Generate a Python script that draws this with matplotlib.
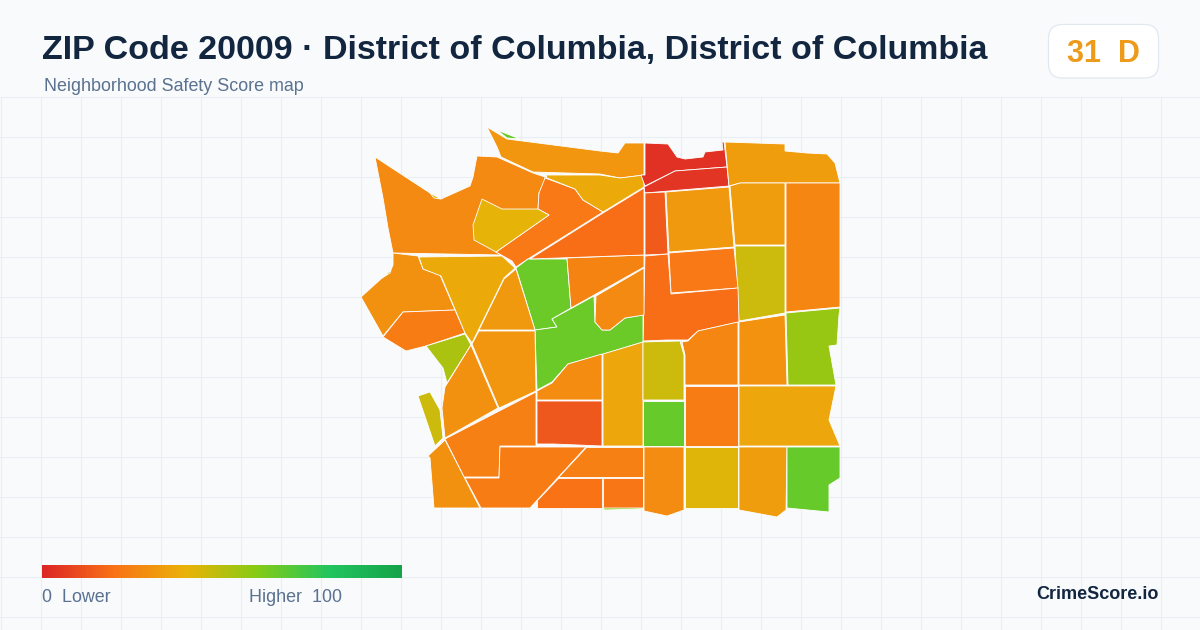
import numpy as np
import matplotlib
matplotlib.use("Agg")
import matplotlib.pyplot as plt
from matplotlib.colors import LinearSegmentedColormap
from matplotlib.patches import FancyBboxPatch, Polygon

plt.rcParams['font.family'] = ['Liberation Sans', 'DejaVu Sans']

title = "ZIP Code 20009 \u00b7 District of Columbia, District of Columbia"
subtitle = "Neighborhood Safety Score map"
overall_score = "31  D"
brand = "CrimeScore.io"

# colour ramp stops
ramp_stops = [0.0, 0.2, 0.4, 0.6, 0.8, 1.0]
ramp_colors = ["#dc2626", "#f97316", "#eab308", "#84cc16", "#22c55e", "#16a34a"]

# neighbourhood outlines, with their scores
tract_scores = [
    31, 66, 27, 22, 41, 37, 3, 4,
    33, 33, 26, 46, 14, 32, 22, 19,
    65, 65, 25, 27, 29, 23, 37, 32,
    52, 29, 31, 46, 24, 23, 29, 13,
    28, 36, 46, 66, 26, 30, 56, 36,
    23, 24, 20, 21, 60, 28, 42, 33, 66,
    19, 50, 40,
]
tract_shapes = [
    [(487, 127), (507, 139), (600, 151), (618, 153), (625, 143), (644, 143), (644, 175), (620, 178), (600, 174), (533, 172), (501, 157), (497, 147)],
    [(497, 130), (520, 139), (507, 138)],
    [(375, 157), (430, 193), (441, 199), (470, 186), (473, 177), (477, 156), (497, 157), (533, 173), (545, 177), (544, 183), (539, 193), (538, 209), (552, 215), (496, 252), (502, 255), (393, 253), (388, 228), (383, 198)],
    [(545, 178), (575, 189), (583, 200), (603, 212), (528, 259), (516, 267), (512, 261), (496, 252), (549, 215), (538, 209), (539, 193)],
    [(482, 199), (502, 209), (538, 209), (549, 215), (496, 252), (474, 240), (473, 225)],
    [(546, 175), (600, 175), (620, 178), (644, 175), (644, 187), (603, 212), (583, 200), (575, 189), (547, 178)],
    [(645, 143), (668, 144), (677, 157), (685, 159), (703, 157), (705, 152), (723, 150), (722, 142), (724, 142), (727, 167), (675, 171), (645, 186), (641, 175), (645, 175)],
    [(675, 171), (727, 167), (729, 186), (645, 193), (644, 187)],
    [(725, 142), (785, 144), (785, 151), (807, 153), (827, 154), (835, 163), (840, 183), (740, 183), (729, 186)],
    [(730, 186), (740, 183), (785, 183), (785, 245), (735, 245)],
    [(786, 183), (840, 183), (840, 307), (786, 312)],
    [(735, 246), (785, 246), (785, 313), (739, 321)],
    [(645, 193), (665, 192), (668, 254), (645, 255)],
    [(666, 192), (729, 187), (734, 247), (669, 252)],
    [(669, 253), (734, 248), (738, 288), (671, 293)],
    [(645, 256), (668, 254), (671, 294), (738, 288), (739, 322), (698, 331), (688, 340), (667, 340), (643, 341)],
    [(516, 268), (528, 259), (567, 259), (571, 308), (552, 319), (557, 327), (535, 330)],
    [(552, 319), (594, 296), (595, 322), (602, 330), (610, 330), (625, 318), (643, 315), (643, 342), (607, 353), (568, 364), (552, 382), (537, 390), (535, 330), (557, 327)],
    [(567, 258), (644, 255), (644, 267), (571, 308)],
    [(596, 296), (644, 268), (644, 315), (625, 318), (610, 330), (602, 330), (595, 322)],
    [(393, 253), (418, 256), (423, 269), (440, 275), (455, 310), (403, 312), (383, 336), (361, 297), (382, 278), (390, 272), (393, 265)],
    [(403, 312), (455, 310), (465, 333), (426, 346), (406, 351), (383, 337)],
    [(419, 257), (502, 256), (515, 268), (504, 278), (472, 343), (465, 333), (441, 276), (423, 269)],
    [(516, 269), (535, 330), (479, 330), (504, 279)],
    [(426, 346), (465, 334), (471, 345), (447, 383), (443, 368)],
    [(471, 345), (498, 408), (445, 438), (442, 408), (445, 387)],
    [(479, 331), (535, 331), (536, 391), (499, 408), (472, 344)],
    [(418, 396), (430, 392), (440, 410), (443, 438), (435, 446)],
    [(445, 439), (536, 392), (536, 446), (500, 446), (499, 477), (464, 477)],
    [(465, 478), (499, 478), (500, 447), (586, 447), (530, 508), (481, 508)],
    [(445, 440), (480, 508), (434, 508), (430, 458), (428, 456)],
    [(537, 401), (602, 401), (602, 446), (553, 444), (537, 444)],
    [(537, 391), (552, 383), (568, 364), (602, 354), (602, 400), (537, 400)],
    [(603, 354), (643, 342), (643, 446), (603, 446)],
    [(643, 342), (680, 341), (684, 355), (684, 400), (643, 400)],
    [(643, 401), (684, 401), (684, 446), (643, 446)],
    [(682, 342), (688, 341), (698, 331), (738, 322), (738, 385), (685, 385), (685, 355)],
    [(739, 322), (785, 315), (787, 385), (739, 385)],
    [(786, 313), (840, 308), (839, 315), (837, 345), (829, 346), (836, 385), (788, 385)],
    [(739, 386), (836, 386), (829, 420), (840, 446), (739, 446)],
    [(685, 386), (738, 386), (738, 446), (685, 446)],
    [(586, 447), (643, 447), (643, 477), (558, 477)],
    [(558, 478), (602, 478), (602, 508), (537, 508), (537, 500)],
    [(603, 478), (643, 478), (643, 508), (603, 508)],
    [(604, 508), (643, 508), (643, 509), (604, 510)],
    [(644, 447), (684, 447), (684, 510), (667, 516), (644, 511)],
    [(685, 447), (738, 447), (738, 508), (685, 508)],
    [(739, 447), (787, 447), (786, 510), (777, 517), (739, 510)],
    [(787, 447), (840, 447), (840, 478), (829, 485), (829, 512), (787, 508)],
    [(530, 259), (603, 213), (644, 188), (644, 255)],
    [(382, 278), (391, 270), (390, 273)],
    [(430, 193), (441, 199), (434, 198)],
]

cmap = LinearSegmentedColormap.from_list("safety", list(zip(ramp_stops, ramp_colors)))

fig = plt.figure(figsize=(12, 6.3), dpi=100, facecolor="#f8fafc")
ax = fig.add_axes([0, 0, 1, 1])
ax.set_xlim(0, 1200)
ax.set_ylim(630, 0)
ax.axis("off")

# background grid, below the header only
ax.vlines(np.arange(0.5, 1200, 40), 97, 630, color="#e8eef4", lw=0.75, zorder=1)
ax.hlines(np.arange(96.5, 630, 40), 0, 1200, color="#e8eef4", lw=0.75, zorder=1)

# map
for shape, score in zip(tract_shapes, tract_scores):
    ax.add_patch(Polygon(shape, closed=True, facecolor=cmap(score / 100),
                         edgecolor="white", lw=0.6, zorder=2))

# title
ax.text(42, 59, title, fontsize=24.45, fontweight="bold", color="#12263f", va="baseline", zorder=5)
ax.text(44, 91, subtitle, fontsize=12.9, color="#5a7190", va="baseline", zorder=5)

# score badge
ax.add_patch(FancyBboxPatch((1048.5, 24.5), 110, 53.5, boxstyle="round,pad=0,rounding_size=14",
                            facecolor="white", edgecolor="#e2e8f0", lw=0.9, zorder=4))
ax.text(1103, 62, overall_score, fontsize=22, fontweight="bold", color="#ee9a1a",
        ha="center", va="baseline", zorder=5)

# legend bar
gradient = np.linspace(0, 1, 360).reshape(1, -1)
ax.imshow(gradient, cmap=cmap, extent=(42, 402, 578, 565), aspect="auto", zorder=3)
ax.set_xlim(0, 1200)
ax.set_ylim(630, 0)
ax.text(42, 602.5, "0  Lower", fontsize=12.9, color="#5a7190", va="baseline", zorder=5)
ax.text(249, 602.5, "Higher  100", fontsize=12.9, color="#5a7190", va="baseline", zorder=5)

ax.text(1158.5, 599, brand, fontsize=13, fontweight="bold", color="#12263f",
        ha="right", va="baseline", zorder=5)

fig.savefig("out.png", dpi=100, facecolor=fig.get_facecolor())
